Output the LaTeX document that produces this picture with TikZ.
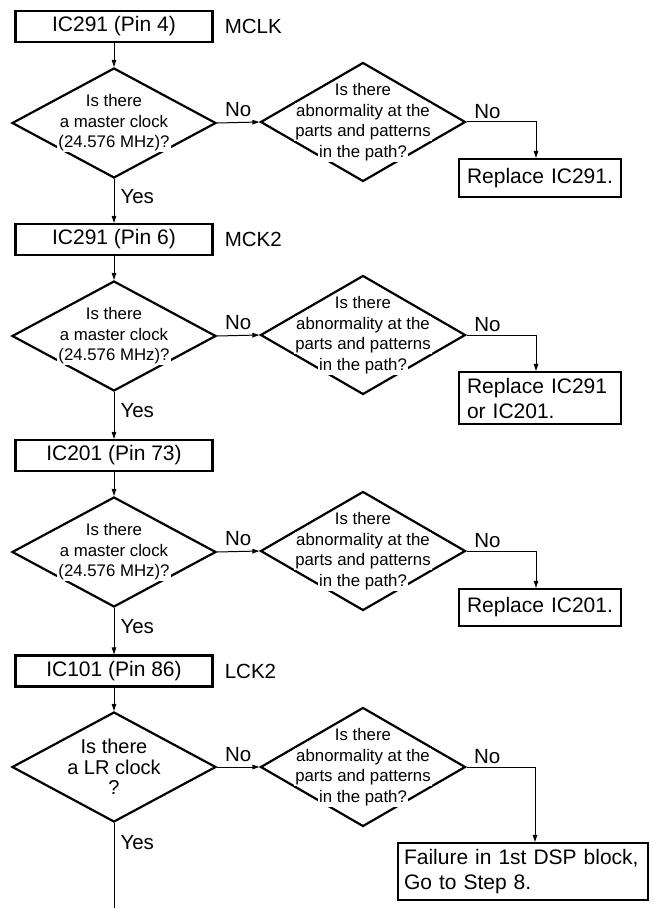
\documentclass[tikz,border=0pt]{standalone}
\usepackage{fontspec}
\setmainfont{Liberation Sans}
\usetikzlibrary{arrows.meta,shapes.geometric,positioning}
\newcommand{\wline}[1]{{\setlength{\fboxsep}{1pt}\colorbox{white}{#1}}}

\begin{document}
\begin{tikzpicture}[x=1pt,y=-1pt,
  pinbox/.style={draw,line width=2.2pt,minimum width=197pt,minimum height=31pt,inner sep=0pt,font=\fontsize{21}{24}\selectfont},
  fixbox/.style={draw,line width=2.2pt,align=left,inner ysep=0pt,font=\fontsize{21}{25}\selectfont},
  ask/.style={draw,shape=diamond,line width=2.2pt,minimum width=204pt,minimum height=110pt,inner sep=0pt},
  check/.style={ask,minimum width=205pt,minimum height=119pt},
  asktext/.style={align=center,inner sep=0pt,font=\fontsize{16.8}{20.5}\selectfont},
  side/.style={inner sep=2pt,font=\fontsize{20.5}{24}\selectfont},
  lbl/.style={inner sep=2pt,font=\fontsize{20.5}{24}\selectfont},
  yes/.style={lbl,anchor=west,inner xsep=6pt,pos=0.4},
  line/.style={line width=1pt},
  conn/.style={line,-{Triangle[length=7pt,width=4.5pt]}}]
\useasboundingbox (0,0) rectangle (653,909);

\node[pinbox] (b1) at (114,26.5) {IC291 (Pin 4)};
\node[side,right=9pt of b1] (s1) {MCLK};
\node[ask] (q1) at (114,123) {};
\node[asktext] (q1t) at (q1) {\wline{Is there}\\\wline{a master clock}\\\wline{(24.576 MHz)?}};
\node[check] (a1) at (363,122) {};
\node[asktext] (a1t) at (a1) {\wline{Is there}\\\wline{abnormality at the}\\\wline{parts and patterns}\\\wline{in the path?}};
\node[fixbox,text width=146pt,inner xsep=8pt,minimum height=38pt] (r1) at (540,178) {Replace IC291.};

\node[pinbox] (b2) at (114,239.5) {IC291 (Pin 6)};
\node[side,right=9pt of b2] (s2) {MCK2};
\node[ask] (q2) at (114,336) {};
\node[asktext] (q2t) at (q2) {\wline{Is there}\\\wline{a master clock}\\\wline{(24.576 MHz)?}};
\node[check] (a2) at (363,335) {};
\node[asktext] (a2t) at (a2) {\wline{Is there}\\\wline{abnormality at the}\\\wline{parts and patterns}\\\wline{in the path?}};
\node[fixbox,text width=146pt,inner xsep=8pt,minimum height=52pt] (r2) at (540,398) {Replace IC291\\or IC201.};

\node[pinbox] (b3) at (114,455.5) {IC201 (Pin 73)};
\node[ask] (q3) at (114,552) {};
\node[asktext] (q3t) at (q3) {\wline{Is there}\\\wline{a master clock}\\\wline{(24.576 MHz)?}};
\node[check] (a3) at (363,551) {};
\node[asktext] (a3t) at (a3) {\wline{Is there}\\\wline{abnormality at the}\\\wline{parts and patterns}\\\wline{in the path?}};
\node[fixbox,text width=146pt,inner xsep=8pt,minimum height=37pt] (r3) at (540,607.5) {Replace IC201.};

\node[pinbox] (b4) at (114,671) {IC101 (Pin 86)};
\node[side,right=9pt of b4] (s4) {LCK2};
\node[ask] (q4) at (114,767) {};
\node[asktext,font=\fontsize{20}{20.5}\selectfont] (q4t) at (q4) {\wline{Is there}\\\wline{a LR clock}\\\wline{?}};
\node[check] (a4) at (363,767) {};
\node[asktext] (a4t) at (a4) {\wline{Is there}\\\wline{abnormality at the}\\\wline{parts and patterns}\\\wline{in the path?}};
\node[fixbox,text width=238pt,inner xsep=6pt,minimum height=57pt] (r4) at (523,871.5) {Failure in 1st DSP block,\\Go to Step 8.};
\coordinate (tail) at (114,908);

\draw[conn] (b1) -- (q1);
\draw[conn] (q1.east) -- node[lbl,above=3pt] (n1) {No} (a1.west);
\draw[conn] (a1.east) -| node[lbl,pos=0.15,above=1pt] (m1) {No} ([xshift=-4pt]r1.north);
\draw[conn] (q1) -- node[yes] (y1) {Yes} (b2);

\draw[conn] (b2) -- (q2);
\draw[conn] (q2.east) -- node[lbl,above=3pt] (n2) {No} (a2.west);
\draw[conn] (a2.east) -| node[lbl,pos=0.15,above=1pt] (m2) {No} ([xshift=-4pt]r2.north);
\draw[conn] (q2) -- node[yes] (y2) {Yes} (b3);

\draw[conn] (b3) -- (q3);
\draw[conn] (q3.east) -- node[lbl,above=3pt] (n3) {No} (a3.west);
\draw[conn] (a3.east) -| node[lbl,pos=0.15,above=1pt] (m3) {No} ([xshift=-4pt]r3.north);
\draw[conn] (q3) -- node[yes] (y3) {Yes} (b4);

\draw[conn] (b4) -- (q4);
\draw[conn] (q4.east) -- node[lbl,above=3pt] (n4) {No} (a4.west);
\draw[conn] (a4.east) -| node[lbl,pos=0.15,above=1pt] (m4) {No} ([xshift=12pt]r4.north);
\draw[line] (q4) -- node[yes,pos=0.23] (y4) {Yes} (tail);
\end{tikzpicture}
\end{document}
